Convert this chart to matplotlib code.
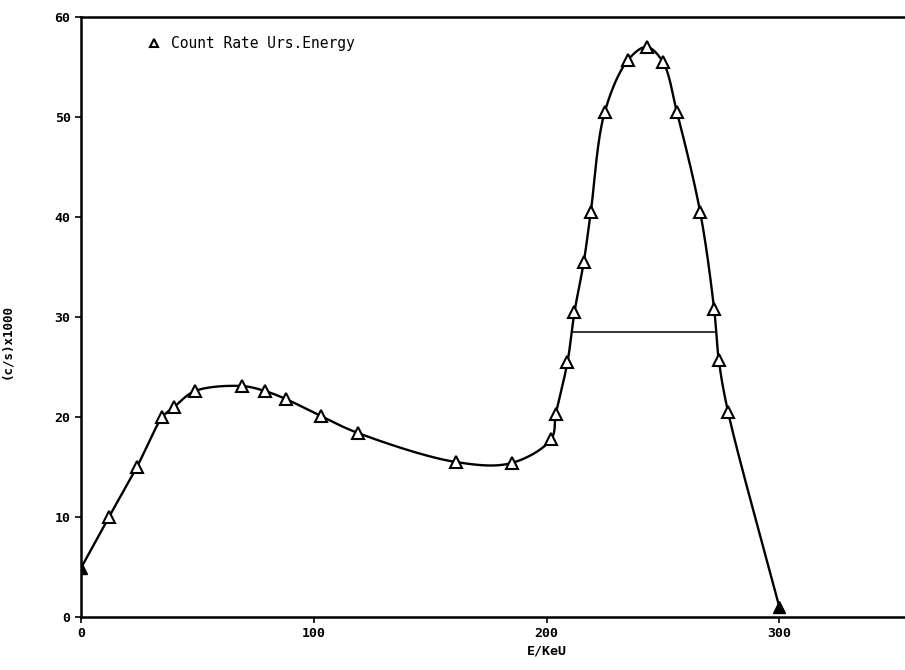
import matplotlib
matplotlib.use("Agg")
import matplotlib.pyplot as plt
import numpy as np

# measured points: energy (keV) and count rate (c/s x1000)
energy = [0, 12, 24, 35, 40, 49, 69, 79, 88, 103, 119, 161, 185,
          202, 204, 209, 212, 216, 219, 225, 235, 243, 250, 256,
          266, 272, 274, 278, 300]
rate = [4.9, 10.0, 15.0, 20.0, 21.0, 22.6, 23.1, 22.6, 21.8, 20.1, 18.4,
        15.5, 15.4, 17.8, 20.3, 25.5, 30.5, 35.5, 40.5, 50.5, 55.7, 57.0,
        55.5, 50.5, 40.5, 30.8, 25.7, 20.5, 1.0]
x_ticks = [0, 100, 200, 300]
y_ticks = [0, 10, 20, 30, 40, 50, 60]
legend_label = "Count Rate Urs.Energy"


def smooth_curve(x, y, steps=60, alpha=0.5):
    # centripetal Catmull-Rom through the points, worked out in rough screen units
    P = np.column_stack([np.asarray(x, float) * 2.33, np.asarray(y, float) * 10.0])
    P = np.vstack([2 * P[0] - P[1], P, 2 * P[-1] - P[-2]])
    out = []
    for i in range(1, len(P) - 2):
        p0, p1, p2, p3 = P[i - 1], P[i], P[i + 1], P[i + 2]
        t0 = 0.0
        t1 = t0 + np.linalg.norm(p1 - p0) ** alpha
        t2 = t1 + np.linalg.norm(p2 - p1) ** alpha
        t3 = t2 + np.linalg.norm(p3 - p2) ** alpha
        t = np.linspace(t1, t2, steps)[:, None]
        a1 = (t1 - t) / (t1 - t0) * p0 + (t - t0) / (t1 - t0) * p1
        a2 = (t2 - t) / (t2 - t1) * p1 + (t - t1) / (t2 - t1) * p2
        a3 = (t3 - t) / (t3 - t2) * p2 + (t - t2) / (t3 - t2) * p3
        b1 = (t2 - t) / (t2 - t0) * a1 + (t - t0) / (t2 - t0) * a2
        b2 = (t3 - t) / (t3 - t1) * a2 + (t - t1) / (t3 - t1) * a3
        c = (t2 - t) / (t2 - t1) * b1 + (t - t1) / (t2 - t1) * b2
        out.append(c)
    c = np.vstack(out)
    return c[:, 0] / 2.33, c[:, 1] / 10.0


fig = plt.figure(figsize=(9.05, 6.7), dpi=100)
ax = fig.add_axes([0.0895, 0.0791, 0.9105, 0.8955])

xs, ys = smooth_curve(energy, rate)
ax.plot(xs, ys, color="black", lw=1.7, zorder=2)

# open triangles, first and last ones look filled in the scan
ax.plot(energy[1:-1], rate[1:-1], ls="none", marker="^", ms=9,
        mfc="white", mec="black", mew=1.5, zorder=3, label=legend_label)
ax.plot([energy[0], energy[-1]], [rate[0], rate[-1]], ls="none", marker="^",
        ms=9, mfc="black", mec="black", zorder=3)

# full width at half maximum line
half = max(rate) / 2
ipk = int(np.argmax(ys))
x_left = np.interp(half, ys[:ipk + 1], xs[:ipk + 1])
x_right = np.interp(half, ys[ipk:][::-1], xs[ipk:][::-1])
ax.plot([x_left, x_right], [half, half], color="black", lw=1.1, zorder=2)

ax.set_xlim(0, 354)
ax.set_ylim(0, 60)
ax.set_xticks(x_ticks)
ax.set_yticks(y_ticks)
ax.spines["right"].set_visible(False)
for s in ["left", "bottom", "top"]:
    ax.spines[s].set_linewidth(1.8)
ax.tick_params(direction="out", length=4, width=1.2, labelsize=9.5)
for lab in ax.get_xticklabels() + ax.get_yticklabels():
    lab.set_fontweight("bold")
    lab.set_family("DejaVu Sans Mono")

ax.set_xlabel("E/KeU", fontsize=9.5, fontweight="bold", family="DejaVu Sans Mono")
ax.xaxis.set_label_coords(200 / 354, -0.045)
ax.set_ylabel("(c/s)x1000", fontsize=9, fontweight="bold", family="DejaVu Sans Mono")
ax.yaxis.set_label_coords(-0.082, 0.46)

leg = ax.legend(loc="upper left", bbox_to_anchor=(0.065, 0.99), frameon=False,
                handlelength=0.8, handletextpad=0.8, markerscale=0.7,
                prop={"family": "DejaVu Sans Mono", "size": 10.5})

fig.savefig("out.png", dpi=100)
